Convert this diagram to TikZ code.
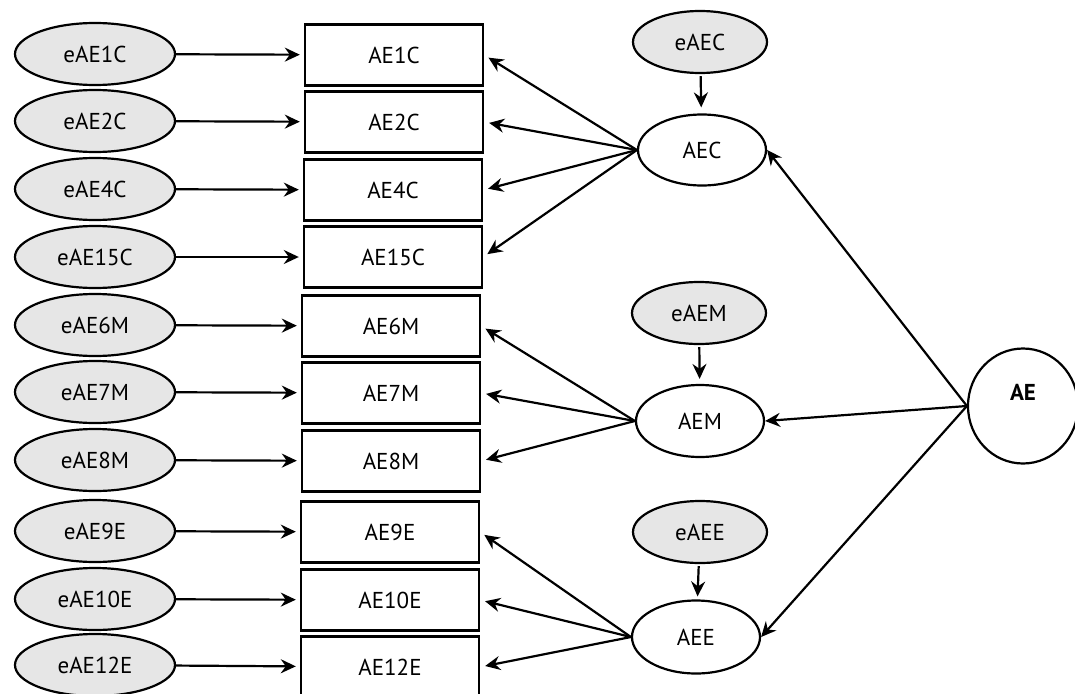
\documentclass[tikz,border=0pt]{standalone}
\usepackage{fontspec}
\setsansfont{PT Sans}
\usepackage{xcolor}
\usetikzlibrary{shapes,arrows.meta,positioning}
\definecolor{errfill}{HTML}{E6E6E6}

\begin{document}
\begin{tikzpicture}[
    x=1pt, y=-1pt,
    font=\sffamily\fontsize{23}{27}\selectfont,
    item/.style={draw, line width=2.4pt, minimum width=178pt, minimum height=61pt, inner sep=0pt},
    err/.style={draw, ellipse, line width=2.2pt, fill=errfill, minimum width=160pt, minimum height=62pt, inner sep=0pt},
    factor/.style={draw, ellipse, line width=2.2pt, minimum width=128pt, minimum height=71pt, inner sep=0pt},
    arrow/.style={-{Stealth[length=15pt, width=14pt, inset=5pt]}, line width=2.2pt}
]
    \useasboundingbox (0,0) rectangle (1075,693);

    % Error terms of the items
    \node[err] (e1c) at (95,54) {eAE1C};
    \node[err] (e2c) at (95,121) {eAE2C};
    \node[err] (e4c) at (95,189) {eAE4C};
    \node[err] (e15c) at (95,257) {eAE15C};
    \node[err] (e6m) at (95,325) {eAE6M};
    \node[err] (e7m) at (95,392) {eAE7M};
    \node[err] (e8m) at (95,460) {eAE8M};
    \node[err] (e9e) at (95,531) {eAE9E};
    \node[err] (e10e) at (95,599) {eAE10E};
    \node[err] (e12e) at (95,665) {eAE12E};

    % Observed items
    \node[item] (ae1c) at (394,55) {AE1C};
    \node[item] (ae2c) at (394,122) {AE2C};
    \node[item] (ae4c) at (393,190) {AE4C};
    \node[item] (ae15c) at (393,257) {AE15C};
    \node[item] (ae6m) at (391,326) {AE6M};
    \node[item] (ae7m) at (391,393) {AE7M};
    \node[item] (ae8m) at (391,461) {AE8M};
    \node[item] (ae9e) at (390,532) {AE9E};
    \node[item] (ae10e) at (390,600) {AE10E};
    \node[item] (ae12e) at (390,667) {AE12E};

    % First order factors and their disturbances
    \node[err, minimum width=134pt] (eaec) at (700,42) {eAEC};
    \node[factor] (aec) at (702,150) {AEC};
    \node[err, minimum width=134pt] (eaem) at (699,313) {eAEM};
    \node[factor, minimum height=72pt] (aem) at (700,421) {AEM};
    \node[err, minimum width=134pt] (eaee) at (700,532) {eAEE};
    \node[factor, minimum height=73pt] (aee) at (696,637) {AEE};

    % Second order factor
    \node[draw, ellipse, line width=2.2pt, minimum width=110pt, minimum height=115pt, inner sep=0pt,
          label={[font=\sffamily\bfseries\fontsize{23}{27}\selectfont, yshift=14pt]center:AE}] (ae) at (1023,406) {};

    % Errors to items
    \draw[arrow, shorten >=4pt] (e1c) -- (ae1c);
    \draw[arrow, shorten >=4pt] (e2c) -- (ae2c);
    \draw[arrow, shorten >=4pt] (e4c) -- (ae4c);
    \draw[arrow, shorten >=4pt] (e15c) -- (ae15c);
    \draw[arrow, shorten >=4pt] (e6m) -- (ae6m);
    \draw[arrow, shorten >=4pt] (e7m) -- (ae7m);
    \draw[arrow, shorten >=4pt] (e8m) -- (ae8m);
    \draw[arrow, shorten >=4pt] (e9e) -- (ae9e);
    \draw[arrow, shorten >=4pt] (e10e) -- (ae10e);
    \draw[arrow, shorten >=4pt] (e12e) -- (ae12e);

    % Factors to items
    \draw[arrow, shorten >=5pt] (aec.west) -- (ae1c.east);
    \draw[arrow, shorten >=5pt] (aec.west) -- (ae2c.east);
    \draw[arrow, shorten >=5pt] (aec.west) -- (ae4c.east);
    \draw[arrow, shorten >=5pt] (aec.west) -- (ae15c.east);
    \draw[arrow, shorten >=5pt] (aem.west) -- (ae6m.east);
    \draw[arrow, shorten >=5pt] (aem.west) -- (ae7m.east);
    \draw[arrow, shorten >=5pt] (aem.west) -- (ae8m.east);
    \draw[arrow, shorten >=5pt] (aee.west) -- (ae9e.east);
    \draw[arrow, shorten >=5pt] (aee.west) -- (ae10e.east);
    \draw[arrow, shorten >=5pt] (aee.west) -- (ae12e.east);

    % Disturbances
    \draw[arrow, shorten <=2pt, shorten >=6pt] (eaec) -- (aec);
    \draw[arrow, shorten <=2pt, shorten >=5pt] (eaem) -- (aem);
    \draw[arrow, shorten <=2pt, shorten >=3pt] (eaee) -- (aee);

    % Second order loadings
    \draw[arrow] (ae.west) -- (aec.east);
    \draw[arrow] (ae.west) -- (aem.east);
    \draw[arrow] (ae.west) -- (aee.east);
\end{tikzpicture}
\end{document}
